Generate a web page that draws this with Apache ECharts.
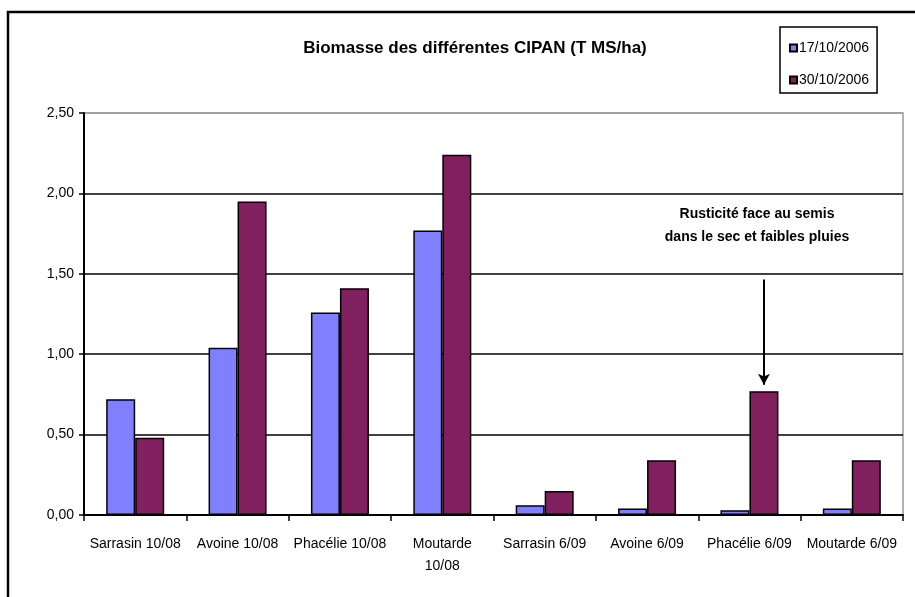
<!DOCTYPE html>
<html>
<head>
<meta charset="utf-8">
<script src="https://cdn.jsdelivr.net/npm/echarts@6/dist/echarts.min.js"></script>
<style>
  html, body { margin: 0; padding: 0; background: #fff; }
  #chart { width: 915px; height: 597px; }
</style>
</head>
<body>
<div id="chart"></div>
<script>
const categories = ["Sarrasin 10/08", "Avoine 10/08", "Phacélie 10/08", "Moutarde\n10/08",
  "Sarrasin 6/09", "Avoine 6/09", "Phacélie 6/09", "Moutarde 6/09"];
const seriesNames = ["17/10/2006", "30/10/2006"];
const values1710 = [0.72, 1.04, 1.26, 1.77, 0.06, 0.04, 0.03, 0.04];
const values3010 = [0.48, 1.95, 1.41, 2.24, 0.15, 0.34, 0.77, 0.34];
const yTicks = [0, 0.5, 1, 1.5, 2, 2.5];

const font = "Liberation Sans";
const colors = ["#8080ff", "#80205f"];

const chart = echarts.init(document.getElementById("chart"), null, { renderer: "canvas" });

const barStyle = (c) => ({ color: c, borderColor: "#000", borderWidth: 1.5 });

const option = {
  backgroundColor: "#fff",
  animation: false,
  textStyle: { fontFamily: font, color: "#000" },
  grid: {
    left: 84, right: 12, top: 113, bottom: 82,
    show: true, borderColor: "#9a9a9a", borderWidth: 1.5, backgroundColor: "transparent"
  },
  legend: {
    orient: "vertical",
    left: 780, top: 27,
    width: 80,
    padding: [14, 8, 6, 9],
    itemGap: 18,
    itemWidth: 7, itemHeight: 7,
    icon: "rect",
    borderColor: "#000", borderWidth: 1.5,
    textStyle: { fontFamily: font, fontSize: 14, color: "#000", padding: [0, 0, 0, -3] },
    data: seriesNames
  },
  xAxis: {
    type: "category",
    data: categories,
    axisLine: { lineStyle: { color: "#000", width: 2 } },
    axisTick: { show: true, length: 6, lineStyle: { color: "#000", width: 1.5 } },
    axisLabel: { interval: 0, fontSize: 14, color: "#000", margin: 18, lineHeight: 22 }
  },
  yAxis: {
    type: "value",
    min: yTicks[0], max: yTicks[yTicks.length - 1], interval: 0.5,
    axisLine: { show: true, lineStyle: { color: "#000", width: 2 } },
    axisTick: { show: true, length: 5, lineStyle: { color: "#000", width: 1.5 } },
    axisLabel: {
      fontSize: 14, color: "#000", margin: 10,
      formatter: (v) => v.toFixed(2).replace(".", ",")
    },
    splitLine: {
      show: true,
      lineStyle: { color: ["#000", "#000", "#000", "#000", "#000", "#9a9a9a"], width: 1.5 }
    }
  },
  series: [
    {
      name: seriesNames[0], type: "bar", data: values1710,
      barWidth: 29, barGap: "0%",
      itemStyle: barStyle(colors[0])
    },
    {
      name: seriesNames[1], type: "bar", data: values3010,
      barWidth: 29,
      itemStyle: barStyle(colors[1]),
      markLine: {
        silent: true,
        symbol: ["none", "arrow"],
        symbolSize: [9, 11],
        label: { show: false },
        lineStyle: { color: "#000", width: 2, type: "solid" },
        data: [[{ coord: [6, 1.465] }, { coord: [6, 0.81] }]]
      }
    }
  ],
  graphic: [
    {
      type: "rect", silent: true, z: 100,
      shape: { x: 8, y: 12, width: 1000, height: 700 },
      style: { fill: "none", stroke: "#000", lineWidth: 2.5 }
    },
    {
      type: "text", silent: true, x: 475, y: 48,
      style: {
        text: "Biomasse des différentes CIPAN (T MS/ha)",
        font: "bold 17px " + font, fill: "#000",
        align: "center", verticalAlign: "middle"
      }
    },
    {
      type: "text", silent: true, x: 757, y: 226,
      style: {
        text: "Rusticité face au semis\ndans le sec et faibles pluies",
        font: "bold 14px " + font, fill: "#000", lineHeight: 23,
        align: "center", verticalAlign: "middle"
      }
    }
  ]
};

chart.setOption(option);
</script>
</body>
</html>
